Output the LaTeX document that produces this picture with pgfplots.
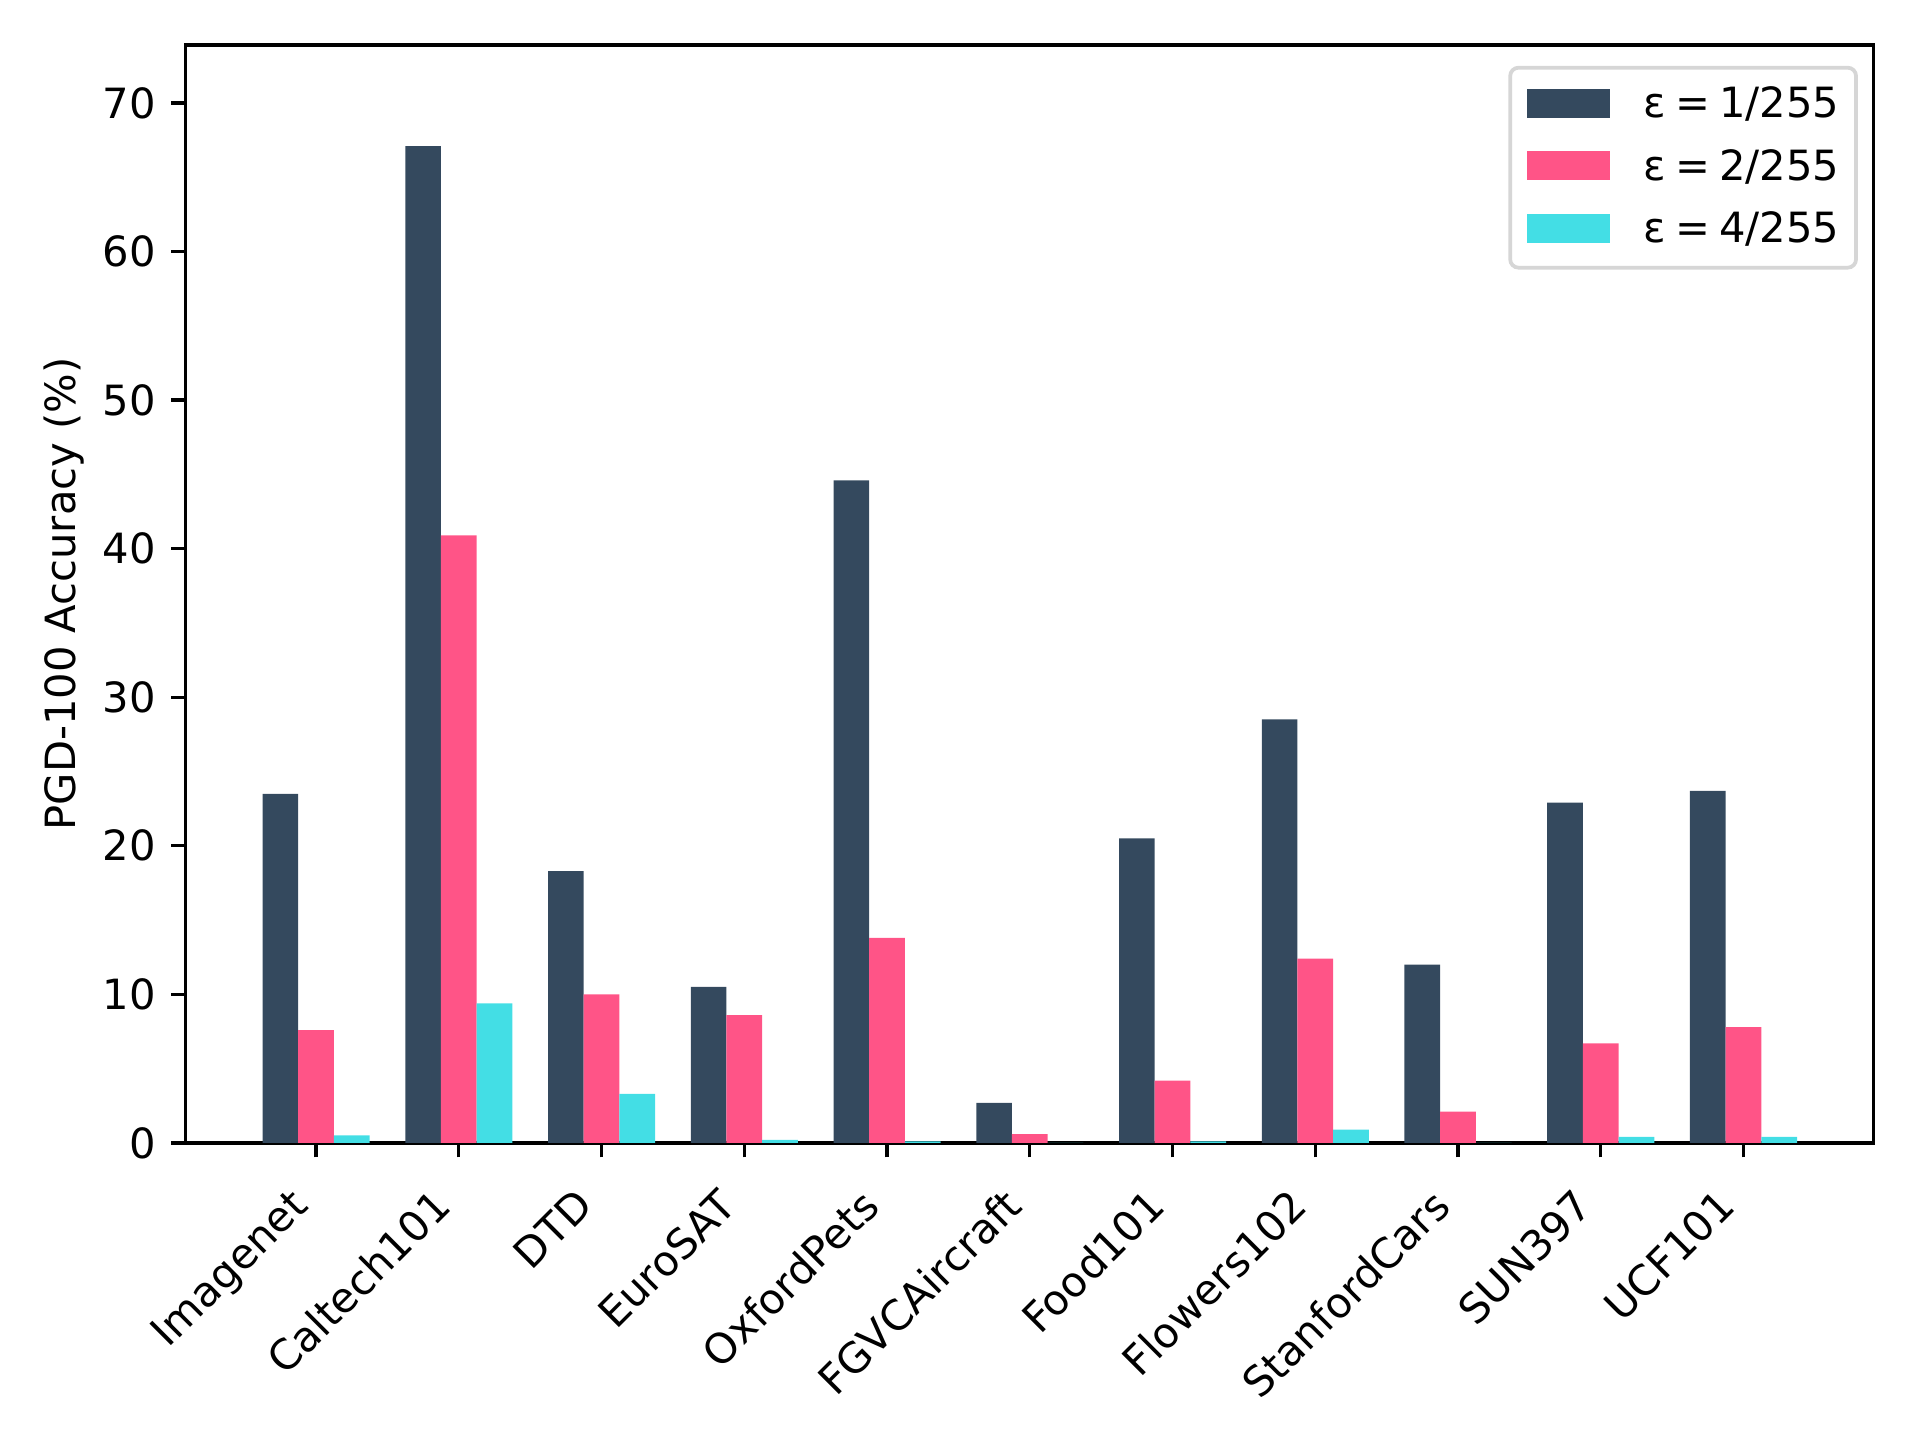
\documentclass[border=0pt]{standalone}
\usepackage{fontspec}
\setmainfont{DejaVu Sans}
\usepackage{pgfplots}
\pgfplotsset{compat=1.18}
\definecolor{cA}{RGB}{52,73,94}
\definecolor{cB}{RGB}{255,84,135}
\definecolor{cC}{RGB}{67,222,229}
\definecolor{legedge}{RGB}{214,214,214}
\newcommand{\eq}{\hspace{2.2pt}=\hspace{2.2pt}}
\begin{document}
\fontsize{10}{12}\selectfont
\begin{tikzpicture}
\useasboundingbox (0,0) rectangle (460.8pt,345.6pt);
\begin{axis}[
  at={(44.6pt,71.3pt)}, anchor=south west,
  scale only axis, width=405.1pt, height=263.5pt,
  xmin=-0.9125, xmax=10.9125, ymin=0, ymax=73.9,
  xtick={0,1,2,3,4,5,6,7,8,9,10},
  xticklabels={Imagenet,Caltech101,DTD,EuroSAT,OxfordPets,FGVCAircraft,Food101,Flowers102,StanfordCars,SUN397,UCF101},
  ytick={0,10,20,30,40,50,60,70},
  tick align=outside, tick pos=left,
  major tick length=3.5pt,
  every tick/.style={black, line width=0.8pt},
  axis line style={line width=0.8pt},
  /pgf/number format/assume math mode=true,
  tick label style={font=\fontsize{10}{12}\selectfont},
  xticklabel style={rotate=45, anchor=north east, inner sep=0pt, xshift=-9.5pt, yshift=0pt},
  yticklabel style={inner sep=0pt, xshift=-3.5pt},
  ylabel={PGD-100 Accuracy (\%)},
  ylabel style={at={(axis description cs:-0.0723,0.5)}, anchor=center, font=\fontsize{10}{12}\selectfont},
  legend image code/.code={\fill[#1, sharp corners] (0pt,-3pt) rectangle (20pt,4pt);},
  legend cell align=left,
  legend style={at={(1,1)}, anchor=north east, xshift=-3.8pt, yshift=-5pt,
    draw=legedge, line width=0.9pt, rounded corners=2pt, fill=white,
    inner xsep=4pt, inner ysep=4.5pt, row sep=6pt, column sep=8pt,
    font=\fontsize{10}{12}\selectfont,
    nodes={inner sep=0pt, text height=7.5pt, text depth=1.5pt}},
]
\addplot[ybar, bar width=0.25, bar shift=-0.25, fill=cA, draw=none] coordinates {
 (0,23.5) (1,67.1) (2,18.3) (3,10.5) (4,44.6) (5,2.7) (6,20.5) (7,28.5) (8,12.0) (9,22.9) (10,23.7)};
\addlegendentry{ε\eq 1/255}
\addplot[ybar, bar width=0.25, bar shift=0, fill=cB, draw=none] coordinates {
 (0,7.6) (1,40.9) (2,10.0) (3,8.6) (4,13.8) (5,0.6) (6,4.2) (7,12.4) (8,2.1) (9,6.7) (10,7.8)};
\addlegendentry{ε\eq 2/255}
\addplot[ybar, bar width=0.25, bar shift=0.25, fill=cC, draw=none] coordinates {
 (0,0.5) (1,9.4) (2,3.3) (3,0.2) (4,0.1) (5,0.0) (6,0.1) (7,0.9) (8,0.0) (9,0.4) (10,0.4)};
\addlegendentry{ε\eq 4/255}
\end{axis}
\end{tikzpicture}
\end{document}
